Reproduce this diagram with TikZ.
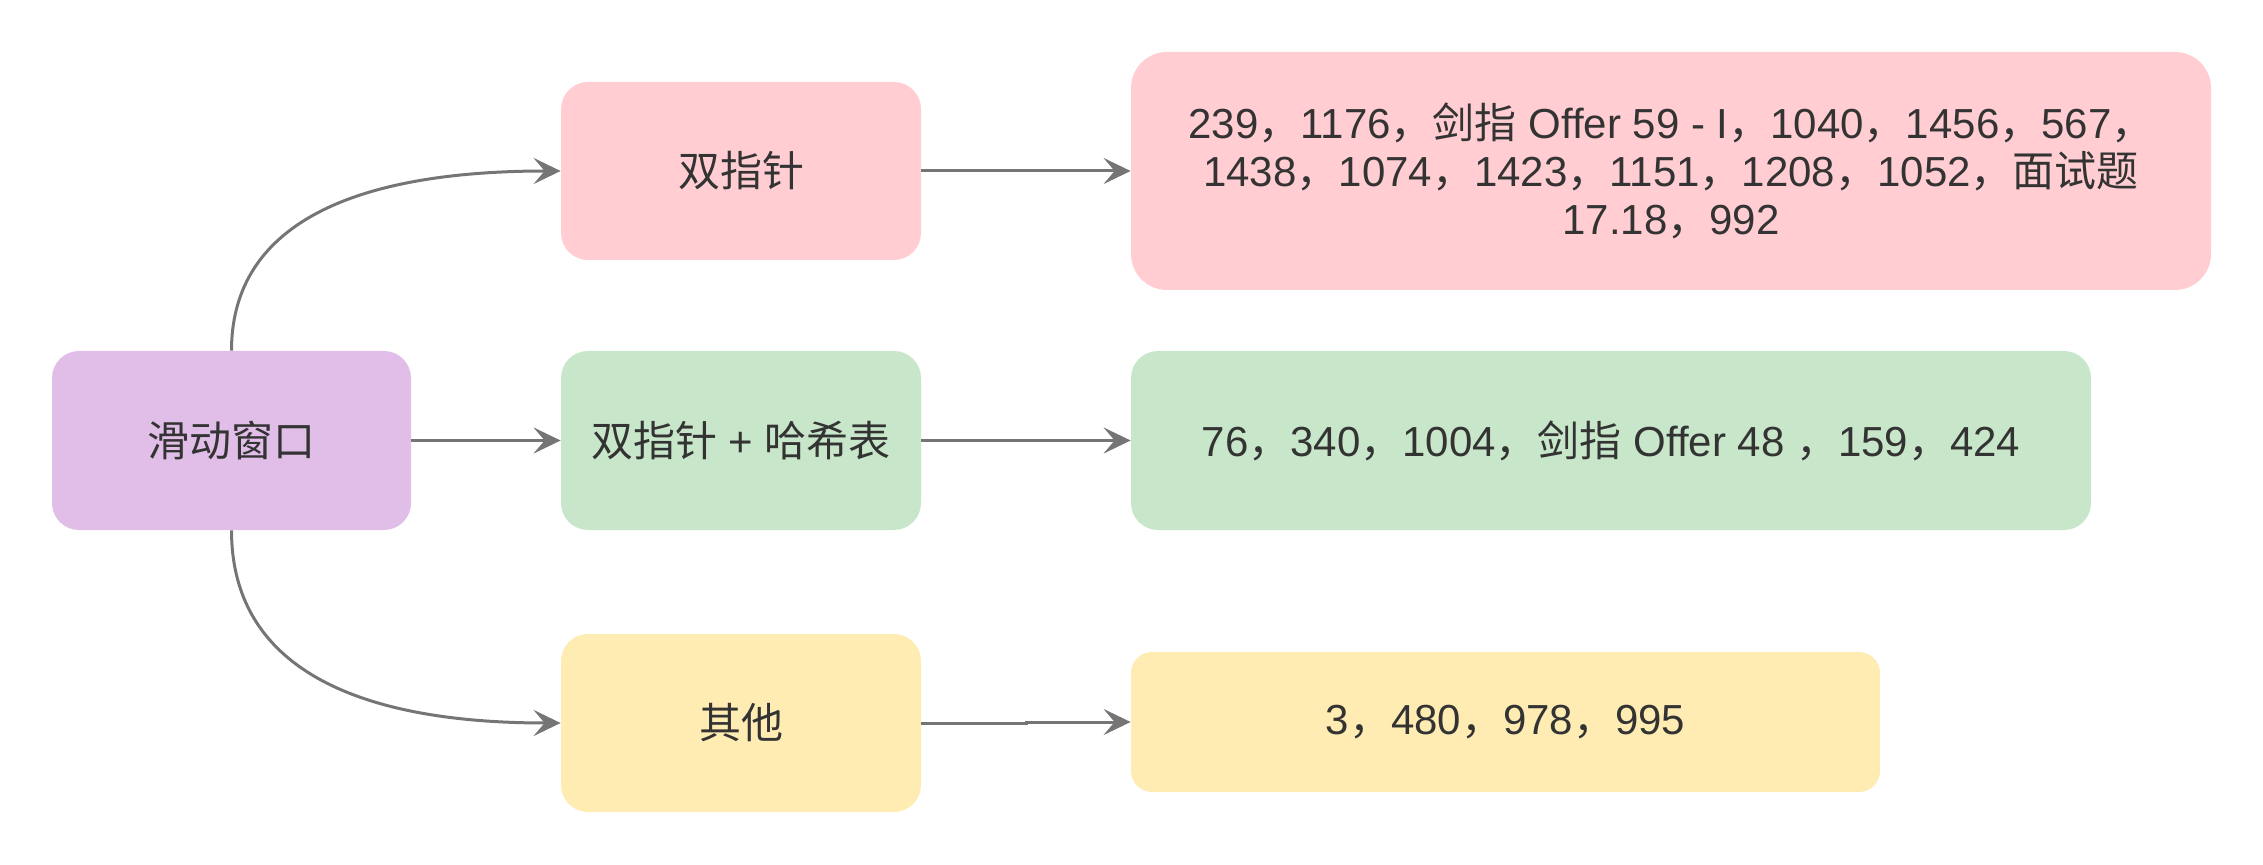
\documentclass[tikz,border=0pt]{standalone}
\usepackage{fontspec}
\setmainfont{Liberation Sans}
\newfontfamily\cjkfont{Noto Sans CJK SC}
\newcommand{\zh}[1]{{\cjkfont #1}}
\usetikzlibrary{arrows.meta,calc}
\definecolor{txtgray}{HTML}{333333}
\definecolor{linegray}{HTML}{757575}
\definecolor{cpurple}{HTML}{E1BEE7}
\definecolor{cpink}{HTML}{FFCDD2}
\definecolor{cgreen}{HTML}{C8E6C9}
\definecolor{cyellow}{HTML}{FFECB3}
\tikzset{
  box/.style={rectangle, draw=none, inner sep=0pt, text=txtgray,
    font=\fontsize{21pt}{24pt}\selectfont, align=center},
  arr/.style={draw=linegray, line width=1.5pt,
    -{Stealth[length=13.5pt,width=13pt,inset=5.5pt]}}
}
\begin{document}
\begin{tikzpicture}[x=0.5pt,y=-0.5pt]
\useasboundingbox (0,0) rectangle (2263,865);
% left
\node[box, fill=cpurple, rounded corners=13.5pt, minimum width=179.5pt, minimum height=89.5pt]
  (win) at (231.5,440.5) {\zh{滑动窗口}};
% middle column
\node[box, fill=cpink, rounded corners=13.5pt, minimum width=180pt, minimum height=89pt]
  (tp) at (741,171) {\zh{双指针}};
\node[box, fill=cgreen, rounded corners=13.5pt, minimum width=180pt, minimum height=89.5pt]
  (tph) at (741,440.5) {\zh{双指针} + \zh{哈希表}};
\node[box, fill=cyellow, rounded corners=13.5pt, minimum width=180pt, minimum height=89pt]
  (oth) at (741,723) {\zh{其他}};
% right column
\node[box, fill=cpink, rounded corners=18pt, minimum width=540pt, minimum height=119pt]
  (pbig) at (1671,171) {239\zh{，}1176\zh{，剑指} Offer 59 - I\zh{，}1040\zh{，}1456\zh{，}567\zh{，}\\
  1438\zh{，}1074\zh{，}1423\zh{，}1151\zh{，}1208\zh{，}1052\zh{，面试题}\\
  17.18\zh{，}992};
\node[box, fill=cgreen, rounded corners=13.5pt, minimum width=480pt, minimum height=89.5pt]
  (gbig) at (1611,440.5) {76\zh{，}340\zh{，}1004\zh{，剑指} Offer 48 \zh{，}159\zh{，}424};
\node[box, fill=cyellow, rounded corners=10.5pt, minimum width=374.5pt, minimum height=70pt]
  (ybig) at (1505.5,722) {3\zh{，}480\zh{，}978\zh{，}995};
% connectors
\coordinate (c1) at (win.north |- tp.west);
\coordinate (c2) at (win.south |- oth.west);
\draw[arr] (win.north) .. controls ($(win.north)!2/3!(c1)$) and ($(tp.west)!2/3!(c1)$) .. (tp.west);
\draw[arr] (win.south) .. controls ($(win.south)!2/3!(c2)$) and ($(oth.west)!2/3!(c2)$) .. (oth.west);
\draw[arr] (win.east) -- (tph.west);
\draw[arr] (tp.east) -- (pbig.west);
\draw[arr] (tph.east) -- (gbig.west);
\coordinate (j) at ($(oth.east)+(105,0)$);
\draw[arr] (oth.east) -- (j) |- (ybig.west);
\end{tikzpicture}
\end{document}
